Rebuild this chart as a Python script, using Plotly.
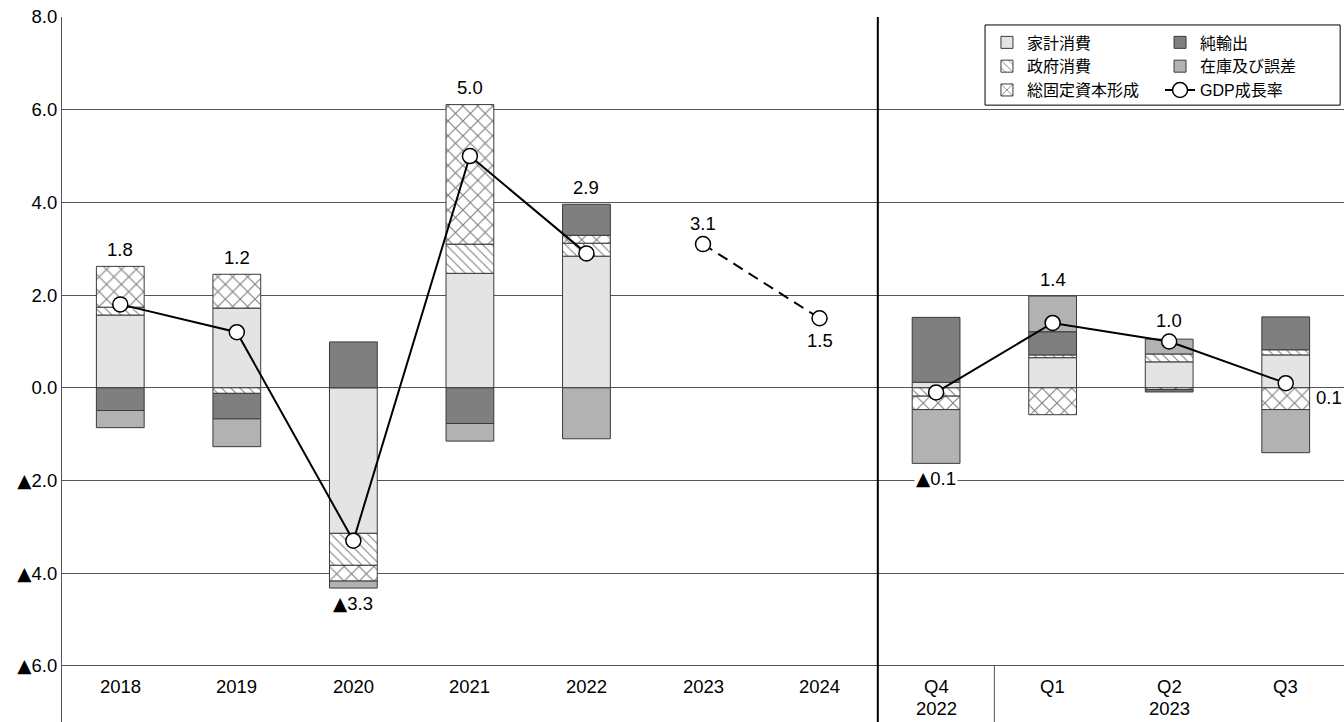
import plotly.graph_objects as go

# ---------------- data ----------------
categories = ["2018", "2019", "2020", "2021", "2022", "2023", "2024",
              "Q4 2022", "Q1 2023", "Q2 2023", "Q3 2023"]
tick_top = ["2018", "2019", "2020", "2021", "2022", "2023", "2024", "Q4", "Q1", "Q2", "Q3"]
tick_bottom = ["", "", "", "", "", "", "", "2022", "", "2023", ""]

household = [1.57, 1.72, -3.14, 2.47, 2.84, None, None, 0.12, 0.65, 0.56, 0.71]
government = [0.17, -0.12, -0.69, 0.63, 0.28, None, None, -0.18, 0.06, 0.17, 0.11]
gfcf = [0.88, 0.73, -0.34, 3.01, 0.17, None, None, -0.29, -0.58, -0.04, -0.47]
net_exports = [-0.49, -0.55, 0.99, -0.77, 0.67, None, None, 1.40, 0.50, -0.05, 0.71]
inventory = [-0.37, -0.60, -0.15, -0.38, -1.10, None, None, -1.16, 0.77, 0.32, -0.93]

gdp_cat_actual = ["2018", "2019", "2020", "2021", "2022"]
gdp_actual = [1.8, 1.2, -3.3, 5.0, 2.9]
gdp_cat_forecast = ["2023", "2024"]
gdp_forecast = [3.1, 1.5]
gdp_cat_quarter = ["Q4 2022", "Q1 2023", "Q2 2023", "Q3 2023"]
gdp_quarter = [-0.1, 1.4, 1.0, 0.1]

y_ticks = [-6, -4, -2, 0, 2, 4, 6, 8]

# label placement for each GDP value
label_modes = ["top", "top", "bottom", "top", "top", "above", "below",
               "bottom", "top", "above", "right"]

# ---------------- figure ----------------
FONT = "Liberation Sans, Arial, Noto Sans CJK JP, sans-serif"
EDGE = "#3a3a3a"
BW = 0.41
NUM_SIZE = 18.5

fig = go.Figure()


def add_bar(name, vals, color, legend, pattern=None, psize=10, sol=0.12):
    marker = dict(color=color, line=dict(color=EDGE, width=1))
    if pattern:
        marker["pattern"] = dict(shape=pattern, fgcolor="black", bgcolor="white",
                                 size=psize, solidity=sol)
    fig.add_trace(go.Bar(x=categories, y=vals, name=name, marker=marker,
                         width=BW, legend=legend))


add_bar("家計消費", household, "#e4e4e4", "legend")
add_bar("政府消費", government, "white", "legend", "\\", 6.5, 0.17)
add_bar("総固定資本形成", gfcf, "white", "legend", "x", 10.5, 0.2)
add_bar("純輸出", net_exports, "#7f7f7f", "legend2")
add_bar("在庫及び誤差", inventory, "#b2b2b2", "legend2")

mk = dict(size=15, color="white", line=dict(color="black", width=1.5))
fig.add_trace(go.Scatter(x=gdp_cat_actual, y=gdp_actual, mode="lines+markers",
                         line=dict(color="black", width=2), marker=mk,
                         name="GDP成長率", legend="legend2", cliponaxis=False))
fig.add_trace(go.Scatter(x=gdp_cat_forecast, y=gdp_forecast, mode="lines+markers",
                         line=dict(color="black", width=2, dash="11px,7px"), marker=mk,
                         showlegend=False, cliponaxis=False))
fig.add_trace(go.Scatter(x=gdp_cat_quarter, y=gdp_quarter, mode="lines+markers",
                         line=dict(color="black", width=2), marker=mk,
                         showlegend=False, cliponaxis=False))

# ---------------- labels ----------------
gdp_all = dict(zip(gdp_cat_actual + gdp_cat_forecast + gdp_cat_quarter,
                   gdp_actual + gdp_forecast + gdp_quarter))
series = [household, government, gfcf, net_exports, inventory]

TRI = '<span style="font-family:DejaVu Sans">▲</span>'


def fmt(v):
    return (TRI if v < 0 else "") + f"{abs(v):.1f}"


annotations = []
for i, cat in enumerate(categories):
    v = gdp_all[cat]
    vals = [s[i] for s in series if s[i] is not None]
    top = sum(x for x in vals if x > 0)
    bottom = sum(x for x in vals if x < 0)
    mode = label_modes[i]
    a = dict(x=i, text=fmt(v), showarrow=False, font=dict(size=NUM_SIZE, color="black"),
             xanchor="center", yanchor="middle")
    if mode == "top":
        a.update(y=top, yshift=17)
    elif mode == "bottom":
        a.update(y=bottom, yshift=-15, bgcolor="white")
    elif mode == "above":
        a.update(y=v, yshift=21)
    elif mode == "below":
        a.update(y=v, yshift=-22)
    elif mode == "right":
        a.update(y=v, xshift=43, yshift=-14)
    annotations.append(a)

for i, (t, b) in enumerate(zip(tick_top, tick_bottom)):
    annotations.append(dict(x=i, y=-6.45, text=t, showarrow=False,
                            font=dict(size=NUM_SIZE, color="black"), yanchor="middle"))
    if b:
        annotations.append(dict(x=i, y=-6.92, text=b, showarrow=False,
                                font=dict(size=NUM_SIZE, color="black"), yanchor="middle"))

YMIN = -7.21
shapes = [
    dict(type="line", xref="x", yref="y", x0=6.5, x1=6.5, y0=YMIN, y1=8,
         line=dict(color="black", width=2), layer="above"),
    dict(type="line", xref="x", yref="y", x0=7.5, x1=7.5, y0=YMIN, y1=-6,
         line=dict(color="#555555", width=1), layer="above"),
    dict(type="rect", xref="paper", yref="paper", x0=0.72, x1=0.997, y0=0.875, y1=0.9887,
         line=dict(color="black", width=1), fillcolor="white", layer="above"),
]

LEG_FONT = dict(size=16, color="black", family=FONT)
fig.update_layout(
    width=1344, height=722,
    margin=dict(l=62, r=0, t=17, b=0),
    paper_bgcolor="white", plot_bgcolor="white",
    barmode="relative",
    font=dict(family=FONT, size=NUM_SIZE, color="black"),
    xaxis=dict(range=[-0.5, 10.5], showticklabels=False, showgrid=False,
               zeroline=False, ticks="", showline=False),
    yaxis=dict(range=[YMIN, 8], tickvals=y_ticks,
               ticktext=[fmt(t) for t in y_ticks],
               showgrid=True, gridcolor="#555555", gridwidth=1,
               zeroline=False, showline=True, linecolor="#555555", linewidth=1,
               ticks="", tickfont=dict(size=NUM_SIZE, color="black")),
    legend=dict(x=0.7215, y=0.988, xanchor="left", yanchor="top",
                bgcolor="rgba(0,0,0,0)", borderwidth=0,
                font=LEG_FONT, itemwidth=30, tracegroupgap=0),
    legend2=dict(x=0.8565, y=0.988, xanchor="left", yanchor="top",
                 bgcolor="rgba(0,0,0,0)", borderwidth=0,
                 font=LEG_FONT, itemwidth=30, tracegroupgap=0),
    annotations=annotations,
    shapes=shapes,
    showlegend=True,
)

fig.write_html("out.html")
